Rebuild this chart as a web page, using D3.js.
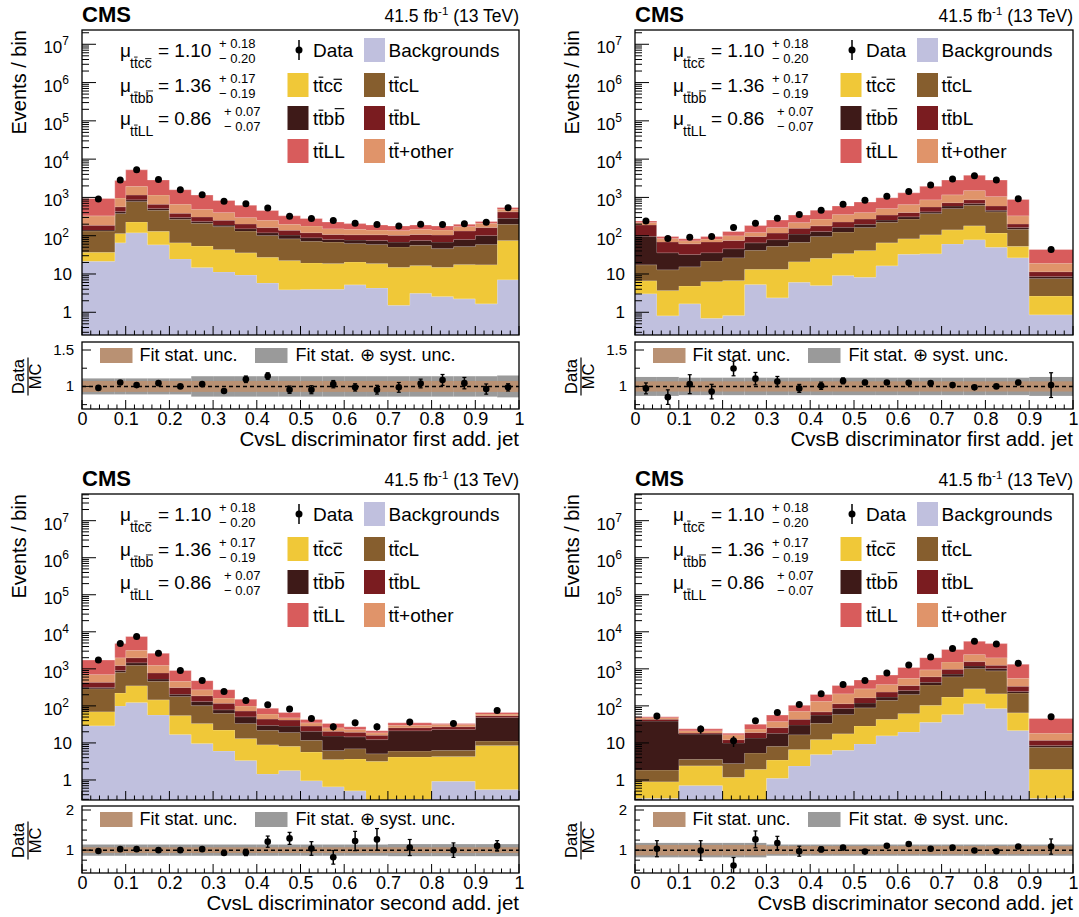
<!DOCTYPE html>
<html>
<head>
<meta charset="utf-8">
<script src="https://cdn.jsdelivr.net/npm/d3@7"></script>
<style>
  body { margin: 0; background: #fff; }
  svg { display: block; font-family: 'Liberation Sans', Arial, Helvetica, sans-serif; }
</style>
</head>
<body>
<svg id="chart"></svg>
<script>
// Stack order, bottom to top
const processes = ["bkg", "ttcc", "ttcL", "ttbb", "ttbL", "ttother", "ttLL"];
const processColors = ["#c0c0de", "#f0c838", "#865e2e", "#3e1a18", "#7a1c20", "#e0946a", "#d85c5c"];

// Fitted signal strengths
const muValues = ["1.10", "1.36", "0.86"];
const muUp = ["0.18", "0.17", "0.07"];
const muDown = ["0.20", "0.19", "0.07"];

// ---- CvsL discriminator first add. jet
const edgesA = [0, 0.075, 0.1, 0.15, 0.2, 0.25, 0.3, 0.35, 0.4, 0.45, 0.5, 0.55, 0.6, 0.65, 0.7, 0.75, 0.8, 0.85, 0.9, 0.95, 1];
const bkgA = [21.6, 65.5, 120, 58, 24.8, 14.7, 11.3, 9.4, 5.8, 3.9, 4.0, 4.0, 5.2, 4.3, 1.53, 3.16, 2.6, 2.24, 1.66, 7.1];
const ttccA = [15.4, 49.5, 109, 72, 40.7, 38.8, 32.4, 26.3, 21.7, 18.5, 15.5, 14.7, 15.5, 14.4, 13.5, 13.4, 12.4, 15.4, 15.9, 67.9];
const ttcLA = [96, 265, 556, 334, 203, 157, 129, 97, 74.5, 60.6, 52.5, 49.3, 42.3, 40.3, 36, 39.4, 31, 34.4, 41.4, 124];
const ttbbA = [8, 48, 84, 50, 29, 23, 18, 20, 18, 21, 17, 12, 14, 16, 17, 19, 22, 28, 43, 87];
const ttbLA = [46, 141, 284, 154, 89, 76, 63, 50, 43, 34, 31, 28, 29, 31, 34, 33, 36, 53, 61, 134];
const ttotherA = [143, 393, 797, 485, 281, 183, 150, 95, 91, 61, 60, 45, 41, 35, 34, 39, 37, 40, 48, 73];
const ttLLA = [612, 1788, 3300, 1707, 922, 660, 430, 331, 201, 131, 101, 76, 60, 50, 44, 44, 39, 26, 23, 53];
const dataA = [905, 2850, 5300, 2920, 1580, 1180, 800, 680, 530, 320, 280, 250, 210, 195, 180, 200, 195, 205, 225, 540];
const ratioA = [0.98, 1.054, 1.018, 1.045, 1.0, 1.031, 0.938, 1.098, 1.143, 0.955, 0.955, 1.031, 0.987, 0.955, 0.987, 1.04, 1.089, 1.045, 0.964, 0.987];
const errA = [0.01, 0.015, 0.01, 0.015, 0.015, 0.015, 0.02, 0.045, 0.045, 0.05, 0.055, 0.05, 0.05, 0.06, 0.067, 0.06, 0.075, 0.078, 0.07, 0.05];
const statA = [0.075, 0.075, 0.075, 0.075, 0.075, 0.075, 0.075, 0.075, 0.075, 0.075, 0.075, 0.075, 0.075, 0.075, 0.075, 0.075, 0.075, 0.075, 0.075, 0.075];
const systA = [0.11, 0.11, 0.11, 0.11, 0.11, 0.14, 0.14, 0.14, 0.14, 0.14, 0.14, 0.14, 0.14, 0.14, 0.14, 0.14, 0.14, 0.14, 0.14, 0.15];

// ---- CvsB discriminator first add. jet
const edgesB = [0, 0.05, 0.1, 0.15, 0.2, 0.25, 0.3, 0.35, 0.4, 0.45, 0.5, 0.55, 0.6, 0.65, 0.7, 0.75, 0.8, 0.85, 0.9, 1];
const bkgB = [3.07, 0.81, 1.67, 0.70, 0.82, 5.3, 2.38, 6.1, 5.0, 9.1, 8.2, 16.4, 32.6, 34, 61, 79, 50, 26.7, 0.86];
const ttccB = [3.6, 2.9, 3.2, 5.7, 5.9, 8.1, 11, 14.9, 20.7, 25, 33, 48.6, 51, 72, 82, 102, 67, 26, 1.8];
const ttcLB = [10.7, 9.2, 10.6, 15.6, 20, 28.6, 39.6, 46, 70, 90, 123, 159, 189, 275, 370, 443, 304, 95, 5.0];
const ttbbB = [79, 23, 17, 14, 19, 23, 26, 43, 33, 43, 35, 33, 40, 40, 87, 65, 44, 16, 1.0];
const ttbLB = [95, 33, 29, 33, 29, 31, 38, 47, 52, 62, 74, 89, 92, 144, 130, 182, 135, 39, 2.8];
const ttotherB = [29, 15, 12.5, 13, 25.5, 26, 47, 63, 92, 131, 132, 167, 244, 306, 442, 642, 462, 130, 7.6];
const ttLLB = [23, 12, 9.5, 14, 29, 62, 93, 126, 192, 240, 355, 469, 669, 1083, 1666, 2298, 1776, 556, 24.6];
const dataB = [243, 84, 91, 96, 164, 211, 284, 360, 465, 662, 838, 1080, 1426, 2114, 3013, 3664, 2838, 925, 43.7];
const ratioB = [0.973, 0.853, 1.031, 0.929, 1.246, 1.107, 1.067, 0.973, 1.009, 1.076, 1.054, 1.054, 1.049, 1.045, 1.018, 0.987, 1.0, 1.054, 1.018];
const errB = [0.075, 0.10, 0.13, 0.10, 0.10, 0.085, 0.07, 0.055, 0.05, 0.04, 0.03, 0.025, 0.02, 0.02, 0.02, 0.015, 0.02, 0.03, 0.17];
const statB = [0.07, 0.07, 0.07, 0.07, 0.07, 0.07, 0.07, 0.07, 0.07, 0.07, 0.07, 0.07, 0.07, 0.07, 0.07, 0.07, 0.07, 0.07, 0.07];
const systB = [0.13, 0.13, 0.12, 0.12, 0.12, 0.12, 0.12, 0.12, 0.12, 0.12, 0.12, 0.12, 0.12, 0.12, 0.12, 0.12, 0.12, 0.12, 0.13];

// ---- CvsL discriminator second add. jet
const edgesC = [0, 0.075, 0.1, 0.15, 0.2, 0.25, 0.3, 0.35, 0.4, 0.45, 0.5, 0.55, 0.6, 0.65, 0.7, 0.8, 0.9, 1];
const bkgC = [29, 100, 123, 57, 16.9, 9.6, 6.05, 3.37, 1.46, 1.8, 0.96, 0.66, 0.51, 0.2, 0.3, 0.92, 0.55];
const ttccC = [41, 122, 229, 89, 37.7, 24.1, 16.2, 9.8, 7.5, 6.3, 4.7, 2.9, 3.2, 3.0, 3.9, 3.4, 8.0];
const ttcLC = [221, 590, 907, 315, 125, 68, 41, 20.5, 13.2, 11, 6.1, 2.7, 3.3, 1.9, 1.85, 2.0, 2.7];
const ttbbC = [25, 90, 199, 73, 28, 30, 15, 17, 7.8, 9.4, 9.0, 9.2, 7.6, 7.2, 15.3, 16.8, 37.7];
const ttbLC = [117, 331, 537, 244, 108, 56, 40, 22, 14, 13.1, 7.7, 5.3, 4.9, 3.9, 4.4, 4.3, 5.6];
const ttotherC = [268, 762, 1167, 481, 145, 86, 44, 27, 16.5, 6.4, 6.5, 4.9, 3.6, 2.5, 4.3, 4.2, 5.9];
const ttLLC = [1025, 2813, 4302, 1366, 441, 207, 112, 52, 26, 18, 8, 8, 4.3, 2.6, 5, 2.1, 5.5];
const dataC = [1726, 4808, 7464, 2625, 902, 481, 246, 140, 107, 83, 46, 27.4, 35, 27.4, 36.6, 33.7, 75];
const ratioC = [0.98, 1.024, 1.024, 1.0, 1.0, 1.024, 0.927, 0.943, 1.211, 1.293, 1.041, 0.821, 1.228, 1.268, 1.065, 1.0, 1.106];
const errC = [0.015, 0.015, 0.01, 0.015, 0.015, 0.02, 0.03, 0.08, 0.14, 0.15, 0.17, 0.17, 0.24, 0.27, 0.2, 0.18, 0.13];
const statC = [0.07, 0.07, 0.07, 0.07, 0.07, 0.07, 0.07, 0.07, 0.07, 0.07, 0.07, 0.07, 0.07, 0.07, 0.07, 0.07, 0.07];
const systC = [0.14, 0.14, 0.14, 0.14, 0.14, 0.14, 0.14, 0.14, 0.14, 0.14, 0.14, 0.14, 0.14, 0.14, 0.15, 0.15, 0.15];

// ---- CvsB discriminator second add. jet
const edgesD = [0, 0.1, 0.2, 0.25, 0.3, 0.35, 0.4, 0.45, 0.5, 0.55, 0.6, 0.65, 0.7, 0.75, 0.8, 0.85, 0.9, 1];
const bkgD = [0.32, 0.71, 0.15, 0.15, 1.11, 2.4, 4.9, 6.3, 9.4, 15.7, 19.6, 36, 59, 115, 85, 21.7, 0.32];
const ttccD = [0.58, 1.7, 1.03, 1.8, 2.36, 4.3, 7.4, 11.4, 19.4, 27.7, 43.1, 68, 114, 174, 128, 43.3, 1.64];
const ttcLD = [0.95, 1.2, 1.6, 3.4, 4.7, 10, 21.7, 41.3, 59.7, 98.6, 141, 265, 441, 732, 672, 157, 5.7];
const ttbbD = [37, 13.7, 7.2, 8.2, 10.2, 14, 22.5, 26, 31.5, 31, 57, 65, 108, 181, 136, 23, 0.8];
const ttbLD = [5, 1.1, 2.3, 5.6, 7.6, 12.7, 12.5, 30, 47, 63, 93, 180, 260, 365, 232, 95, 3.3];
const ttotherD = [4, 2.9, 4.4, 4.8, 11.7, 28.6, 64, 98, 122, 141, 201, 328, 553, 888, 747, 215, 6.6];
const ttLLD = [3, 2.7, 1.7, 8, 18.8, 32, 71, 141, 212, 302, 531, 1058, 1799, 3091, 2808, 775, 27.6];
const dataD = [53, 23.6, 11.5, 40, 66.5, 109, 213, 377, 481, 767, 1279, 2084, 3540, 5546, 4700, 1413, 51];
const ratioD = [1.036, 0.991, 0.616, 1.268, 1.179, 0.973, 1.018, 1.063, 0.964, 1.107, 1.152, 1.036, 1.063, 0.991, 0.973, 1.089, 1.089];
const errD = [0.2, 0.245, 0.2, 0.21, 0.165, 0.125, 0.06, 0.045, 0.035, 0.03, 0.03, 0.025, 0.02, 0.02, 0.02, 0.03, 0.19];
const statD = [0.13, 0.13, 0.13, 0.13, 0.1, 0.1, 0.1, 0.1, 0.1, 0.1, 0.1, 0.1, 0.1, 0.1, 0.1, 0.1, 0.1];
const systD = [0.18, 0.18, 0.18, 0.18, 0.14, 0.14, 0.14, 0.14, 0.14, 0.14, 0.14, 0.14, 0.14, 0.14, 0.14, 0.14, 0.14];

// Chart setup
const width = 1079;
const height = 917;
const svg = d3.select("#chart").attr("width", width).attr("height", height);
svg.append("rect").attr("width", width).attr("height", height).attr("fill", "#fff");

const statColor = "#b99173";
const systColor = "#9a9a9a";

const topRow = { top: 30, bottom: 335, rTop: 342, rBottom: 409, yDom: [0.255, 2.36e7], rDom: [0.69, 1.61], rMajor: [1, 1.5], rMinor: [0.75, 1.25] };
const botRow = { top: 494, bottom: 800, rTop: 806, rBottom: 873, yDom: [0.288, 5.25e7], rDom: [0.43, 2.1], rMajor: [1, 2], rMinor: [0.5, 0.75, 1.25, 1.5, 1.75] };

const panels = [
  Object.assign({ id: "A", x0: 82, x1: 519, edges: edgesA, stacks: [bkgA, ttccA, ttcLA, ttbbA, ttbLA, ttotherA, ttLLA],
    data: dataA, ratio: ratioA, rErr: errA, stat: statA, syst: systA, xTitle: "CvsL discriminator first add. jet" }, topRow),
  Object.assign({ id: "B", x0: 635, x1: 1073, edges: edgesB, stacks: [bkgB, ttccB, ttcLB, ttbbB, ttbLB, ttotherB, ttLLB],
    data: dataB, ratio: ratioB, rErr: errB, stat: statB, syst: systB, xTitle: "CvsB discriminator first add. jet" }, topRow),
  Object.assign({ id: "C", x0: 82, x1: 519, edges: edgesC, stacks: [bkgC, ttccC, ttcLC, ttbbC, ttbLC, ttotherC, ttLLC],
    data: dataC, ratio: ratioC, rErr: errC, stat: statC, syst: systC, xTitle: "CvsL discriminator second add. jet" }, botRow),
  Object.assign({ id: "D", x0: 635, x1: 1073, edges: edgesD, stacks: [bkgD, ttccD, ttcLD, ttbbD, ttbLD, ttotherD, ttLLD],
    data: dataD, ratio: ratioD, rErr: errD, stat: statD, syst: systD, xTitle: "CvsB discriminator second add. jet" }, botRow),
];

// text with overlined characters (t-bar, c-bar, b-bar)
function barText(sel, x, y, parts, size) {
  const t = sel.append("text").attr("x", x).attr("y", y).attr("font-size", size);
  const bars = [];
  let n = 0;
  parts.forEach(([s, bar]) => {
    t.append("tspan").text(s);
    if (bar) for (let i = 0; i < s.length; i++) bars.push([n + i, s[i]]);
    n += s.length;
  });
  const node = t.node();
  bars.forEach(([i, ch]) => {
    const e = node.getExtentOfChar(i);
    const h = ch === "b" ? 0.86 : ch === "c" ? 0.67 : 0.78;
    sel.append("line")
      .attr("x1", e.x + e.width * 0.05).attr("x2", e.x + e.width * 0.95)
      .attr("y1", y - h * size).attr("y2", y - h * size)
      .attr("stroke", "#000").attr("stroke-width", Math.max(0.9, size * 0.06));
  });
  return t;
}

const labelParts = {
  ttcc: [["t"], ["t", 1], ["c"], ["c", 1]],
  ttcL: [["t"], ["t", 1], ["cL"]],
  ttbb: [["t"], ["t", 1], ["b"], ["b", 1]],
  ttbL: [["t"], ["t", 1], ["bL"]],
  ttLL: [["t"], ["t", 1], ["LL"]],
  ttother: [["t"], ["t", 1], ["+other"]],
};
const muSubs = [labelParts.ttcc, labelParts.ttbb, labelParts.ttLL];

function drawPanel(p) {
  const g = svg.append("g");
  const x = d3.scaleLinear().domain([0, 1]).range([p.x0, p.x1]);
  const y = d3.scaleLog().domain(p.yDom).range([p.bottom, p.top]);
  const yr = d3.scaleLinear().domain(p.rDom).range([p.rBottom, p.rTop]);
  const ymin = p.yDom[0];

  const defs = svg.append("defs");
  defs.append("clipPath").attr("id", "clipM" + p.id).append("rect")
    .attr("x", p.x0).attr("y", p.top).attr("width", p.x1 - p.x0).attr("height", p.bottom - p.top);
  defs.append("clipPath").attr("id", "clipR" + p.id).append("rect")
    .attr("x", p.x0).attr("y", p.rTop).attr("width", p.x1 - p.x0).attr("height", p.rBottom - p.rTop);

  // Stacked histogram
  const bins = p.edges.slice(0, -1).map((e, i) => {
    const o = { lo: e, hi: p.edges[i + 1] };
    processes.forEach((k, j) => (o[k] = p.stacks[j][i]));
    return o;
  });
  const series = d3.stack().keys(processes)(bins);
  const area = d3.area()
    .x((d) => x(d.x))
    .y0((d) => y(Math.max(d.y0, ymin)))
    .y1((d) => y(Math.max(d.y1, ymin)));
  const topLine = d3.line().x((d) => x(d.x)).y((d) => y(Math.max(d.y1, ymin)));

  const sg = g.append("g").attr("clip-path", `url(#clipM${p.id})`);
  series.forEach((s, j) => {
    const pts = [];
    s.forEach((d) => {
      pts.push({ x: d.data.lo, y0: d[0], y1: d[1] }, { x: d.data.hi, y0: d[0], y1: d[1] });
    });
    sg.append("path").attr("d", area(pts)).attr("fill", processColors[j]);
    sg.append("path").attr("d", topLine(pts)).attr("fill", "none")
      .attr("stroke", "#fff").attr("stroke-opacity", 0.35).attr("stroke-width", 0.8);
  });

  // Data points
  const centers = bins.map((b) => (b.lo + b.hi) / 2);
  const dg = g.append("g").attr("clip-path", `url(#clipM${p.id})`);
  p.data.forEach((v, i) => {
    const e = (v * p.rErr[i]) / p.ratio[i];
    dg.append("line").attr("x1", x(centers[i])).attr("x2", x(centers[i]))
      .attr("y1", y(v + e)).attr("y2", y(Math.max(v - e, ymin)))
      .attr("stroke", "#000").attr("stroke-width", 1.5);
    dg.append("circle").attr("cx", x(centers[i])).attr("cy", y(v)).attr("r", 3.5).attr("fill", "#000");
  });

  // Main frame and ticks
  g.append("rect").attr("x", p.x0).attr("y", p.top).attr("width", p.x1 - p.x0).attr("height", p.bottom - p.top)
    .attr("fill", "none").attr("stroke", "#000").attr("stroke-width", 1.3);

  const kLo = Math.floor(Math.log10(ymin));
  const kHi = Math.ceil(Math.log10(p.yDom[1]));
  for (let k = kLo; k <= kHi; k++) {
    for (let m = 1; m <= 9; m++) {
      const v = m * Math.pow(10, k);
      if (v < ymin || v > p.yDom[1]) continue;
      g.append("line").attr("x1", p.x0).attr("x2", p.x0 + (m === 1 ? 14 : 7))
        .attr("y1", y(v)).attr("y2", y(v)).attr("stroke", "#000").attr("stroke-width", 1);
    }
  }
  d3.range(Math.ceil(Math.log10(ymin)), Math.floor(Math.log10(p.yDom[1])) + 1).forEach((k) => {
    const ty = y(Math.pow(10, k));
    if (k <= 1) {
      g.append("text").attr("x", p.x0 - 10).attr("y", ty + 6).attr("text-anchor", "end")
        .attr("font-size", 17).text(k === 0 ? "1" : "10");
    } else {
      const t = g.append("text").attr("x", p.x0 - 13).attr("y", ty + 9).attr("text-anchor", "end").attr("font-size", 17);
      t.append("tspan").text("10");
      t.append("tspan").attr("font-size", 12).attr("dy", -8).text(k);
    }
  });

  const xMinor = x.ticks(50);
  const xMajor = x.ticks(10);
  xMinor.forEach((v) => {
    const len = xMajor.some((m) => Math.abs(m - v) < 1e-9) ? 9 : 4.5;
    g.append("line").attr("x1", x(v)).attr("x2", x(v)).attr("y1", p.bottom).attr("y2", p.bottom - len)
      .attr("stroke", "#000").attr("stroke-width", 1);
    g.append("line").attr("x1", x(v)).attr("x2", x(v)).attr("y1", p.rBottom).attr("y2", p.rBottom - len)
      .attr("stroke", "#000").attr("stroke-width", 1);
  });

  // Titles
  g.append("text").attr("x", p.x0).attr("y", p.top - 8).attr("font-size", 22).attr("font-weight", "bold").text("CMS");
  const lt = g.append("text").attr("x", p.x1).attr("y", p.top - 8).attr("text-anchor", "end").attr("font-size", 17.5);
  lt.append("tspan").text("41.5 fb");
  lt.append("tspan").attr("font-size", 11.5).attr("dy", -7).text("-1");
  lt.append("tspan").attr("dy", 7).text(" (13 TeV)");

  const yt = g.append("g").attr("transform", `translate(${p.x0 - 56},${p.top}) rotate(-90)`);
  yt.append("text").attr("x", 0).attr("y", 0).attr("text-anchor", "end").attr("font-size", 20).text("Events / bin");

  // Legend: signal strengths
  const muRows = [27, 62, 95];
  muRows.forEach((dy, i) => {
    const by = p.top + dy;
    g.append("text").attr("x", p.x0 + 38).attr("y", by).attr("font-size", 19).text("\u03bc");
    barText(g, p.x0 + 48, by + 11, muSubs[i], 14);
    g.append("text").attr("x", p.x0 + 76).attr("y", by).attr("font-size", 19).text("= " + muValues[i]);
    const sx = p.x0 + (i === 2 ? 142 : 137);
    g.append("text").attr("x", sx).attr("y", by - 9).attr("font-size", 13).text("+ " + muUp[i]);
    g.append("text").attr("x", sx).attr("y", by + 6).attr("font-size", 13).text("\u2212 " + muDown[i]);
  });

  // Legend: processes
  const rows = [20, 55, 88, 121].map((d) => p.top + d);
  const cols = [{ box: p.x0 + 205.5, txt: p.x0 + 231 }, { box: p.x0 + 282, txt: p.x0 + 306.5 }];
  const entries = [
    [0, 0, "data"], [0, 1, "bkg"],
    [1, 0, "ttcc"], [1, 1, "ttcL"],
    [2, 0, "ttbb"], [2, 1, "ttbL"],
    [3, 0, "ttLL"], [3, 1, "ttother"],
  ];
  entries.forEach(([r, c, key]) => {
    const cy = rows[r];
    const col = cols[c];
    if (key === "data") {
      g.append("line").attr("x1", p.x0 + 217).attr("x2", p.x0 + 217).attr("y1", cy - 10).attr("y2", cy + 10)
        .attr("stroke", "#000").attr("stroke-width", 1.5);
      g.append("circle").attr("cx", p.x0 + 217).attr("cy", cy).attr("r", 3.5).attr("fill", "#000");
      g.append("text").attr("x", col.txt).attr("y", cy + 7).attr("font-size", 19).text("Data");
      return;
    }
    const j = processes.indexOf(key);
    g.append("rect").attr("x", col.box).attr("y", cy - 12).attr("width", 21).attr("height", 24).attr("fill", processColors[j]);
    if (key === "bkg") {
      g.append("text").attr("x", col.txt).attr("y", cy + 7).attr("font-size", 19).text("Backgrounds");
    } else {
      barText(g, col.txt, cy + 7, labelParts[key], 19);
    }
  });

  // Ratio panel
  const rg = g.append("g").attr("clip-path", `url(#clipR${p.id})`);
  bins.forEach((b, i) => {
    rg.append("rect").attr("x", x(b.lo)).attr("width", x(b.hi) - x(b.lo))
      .attr("y", yr(1 + p.syst[i])).attr("height", yr(1 - p.syst[i]) - yr(1 + p.syst[i])).attr("fill", systColor);
  });
  bins.forEach((b, i) => {
    rg.append("rect").attr("x", x(b.lo)).attr("width", x(b.hi) - x(b.lo))
      .attr("y", yr(1 + p.stat[i])).attr("height", yr(1 - p.stat[i]) - yr(1 + p.stat[i])).attr("fill", statColor);
  });
  rg.append("line").attr("x1", p.x0).attr("x2", p.x1).attr("y1", yr(1)).attr("y2", yr(1))
    .attr("stroke", "#000").attr("stroke-width", 1.5).attr("stroke-dasharray", "4,3");
  p.ratio.forEach((v, i) => {
    const cx = x(centers[i]);
    const e = p.rErr[i];
    rg.append("line").attr("x1", cx).attr("x2", cx).attr("y1", yr(v + e)).attr("y2", yr(v - e))
      .attr("stroke", "#000").attr("stroke-width", 1.5);
    [v + e, v - e].forEach((w) => {
      rg.append("line").attr("x1", cx - 2).attr("x2", cx + 2).attr("y1", yr(w)).attr("y2", yr(w))
        .attr("stroke", "#000").attr("stroke-width", 1.2);
    });
    rg.append("circle").attr("cx", cx).attr("cy", yr(v)).attr("r", 3.3).attr("fill", "#000");
  });

  g.append("rect").attr("x", p.x0).attr("y", p.rTop).attr("width", p.x1 - p.x0).attr("height", p.rBottom - p.rTop)
    .attr("fill", "none").attr("stroke", "#000").attr("stroke-width", 1.3);

  p.rMajor.concat(p.rMinor).forEach((v) => {
    const len = p.rMajor.includes(v) ? 9 : 5;
    g.append("line").attr("x1", p.x0).attr("x2", p.x0 + len).attr("y1", yr(v)).attr("y2", yr(v))
      .attr("stroke", "#000").attr("stroke-width", 1);
  });
  p.rMajor.forEach((v) => {
    g.append("text").attr("x", p.x0 - 8).attr("y", yr(v) + 5).attr("text-anchor", "end")
      .attr("font-size", 15).text(d3.format("~g")(v));
  });

  // x axis labels under ratio
  const xa = g.append("g").attr("transform", `translate(0,${p.rBottom})`)
    .call(d3.axisBottom(x).tickValues(xMajor).tickSize(0).tickPadding(3).tickFormat(d3.format("~g")));
  xa.select(".domain").remove();
  xa.selectAll("text").attr("font-size", 18).attr("font-family", null).attr("fill", "#000");

  g.append("text").attr("x", p.x1).attr("y", p.rBottom + 37).attr("text-anchor", "end")
    .attr("font-size", 20.5).text(p.xTitle);

  // Ratio legend
  const ly = p.rTop + 6;
  g.append("rect").attr("x", p.x0 + 18).attr("y", ly).attr("width", 32.5).attr("height", 15).attr("fill", statColor);
  g.append("text").attr("x", p.x0 + 57.5).attr("y", p.rTop + 18.5).attr("font-size", 18).text("Fit stat. unc.");
  g.append("rect").attr("x", p.x0 + 173).attr("y", ly).attr("width", 32.5).attr("height", 15).attr("fill", systColor);
  g.append("text").attr("x", p.x0 + 213.5).attr("y", p.rTop + 18.5).attr("font-size", 18).text("Fit stat. \u2295 syst. unc.");

  // Ratio y title: Data / MC
  const rc = (p.rTop + p.rBottom) / 2 + 1;
  const rt = g.append("g").attr("transform", `translate(${p.x0 - 82},${rc}) rotate(-90)`);
  rt.append("text").attr("x", 0).attr("y", 24).attr("text-anchor", "middle").attr("font-size", 16.5).text("Data");
  rt.append("line").attr("x1", -19).attr("x2", 19).attr("y1", 28).attr("y2", 28).attr("stroke", "#000").attr("stroke-width", 1.2);
  rt.append("text").attr("x", 0).attr("y", 41).attr("text-anchor", "middle").attr("font-size", 16.5).text("MC");
}

panels.forEach(drawPanel);
</script>
</body>
</html>
